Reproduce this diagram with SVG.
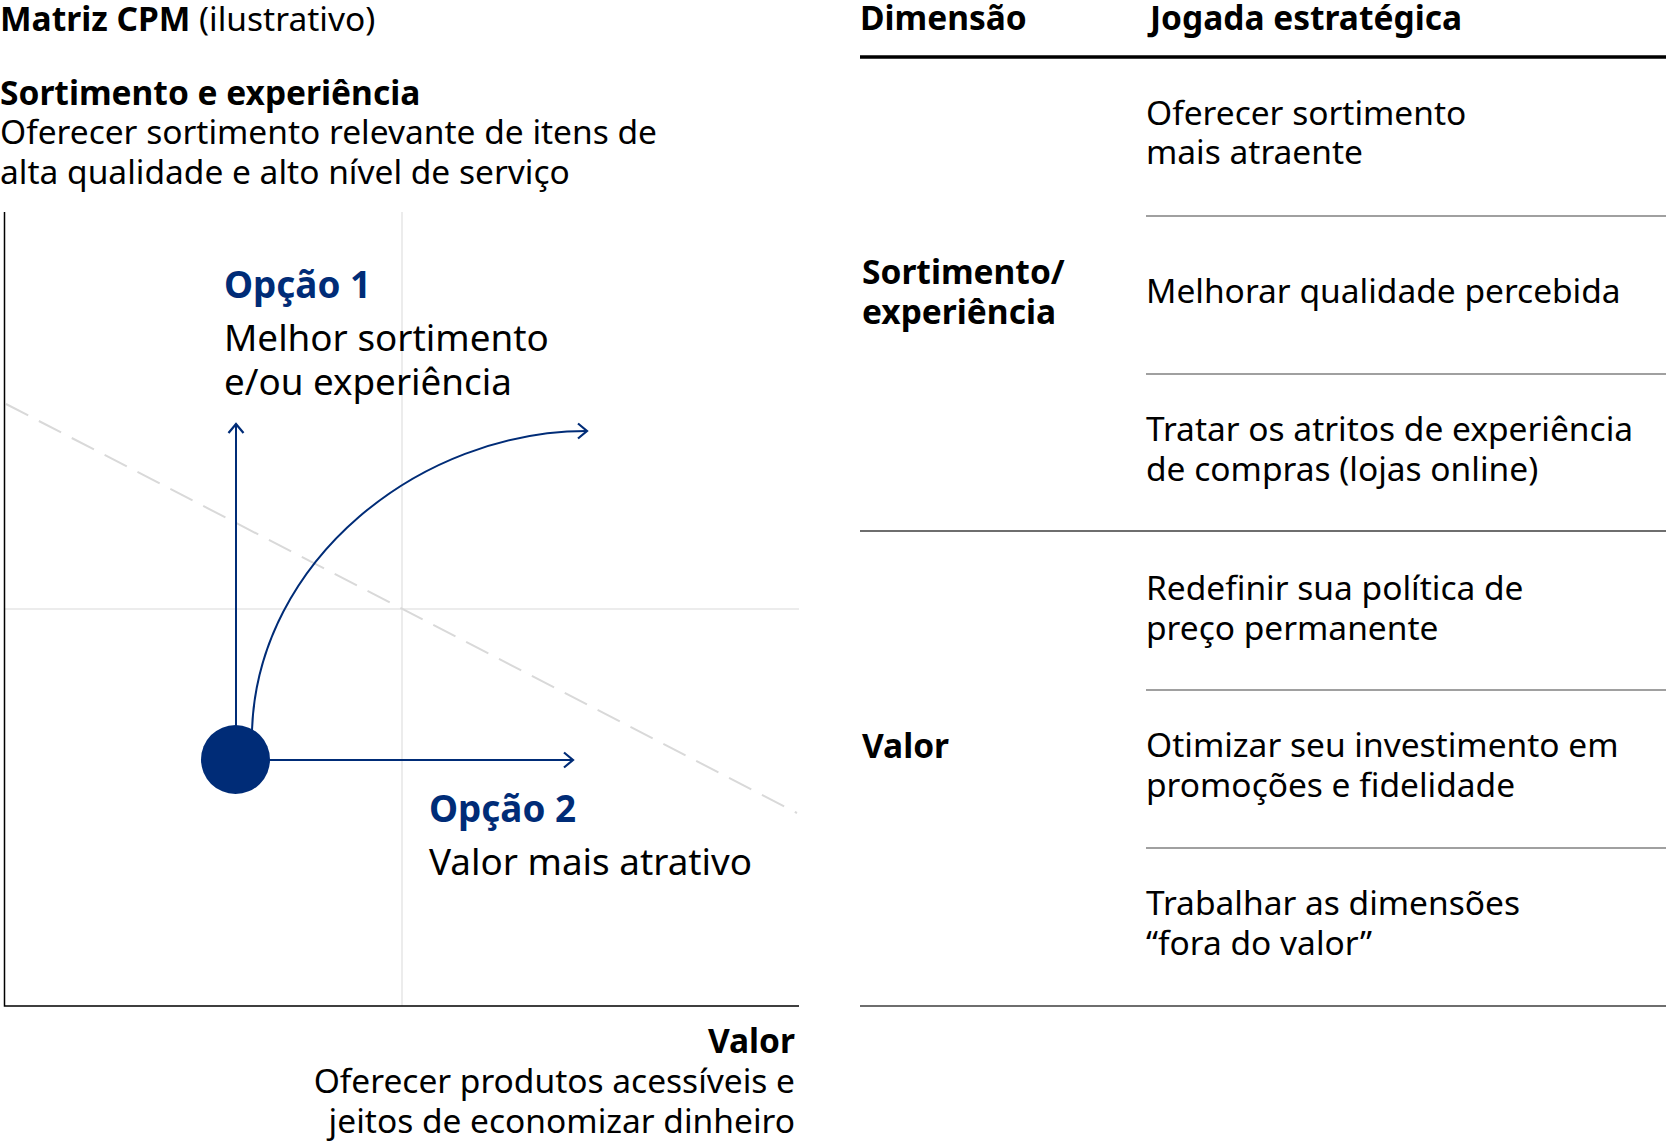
<svg xmlns="http://www.w3.org/2000/svg" width="1666" height="1144" viewBox="0 0 1666 1144">
<style>
text{font-family:"Noto Sans","Open Sans","DejaVu Sans",sans-serif;fill:#000;font-size:33.5px}
.b{font-weight:700}
.opt{font-size:36.8px}
.blue{fill:#002c77}
.grid{stroke:#e6e6e6;stroke-width:1.5;fill:none}
.axis{stroke:#000;stroke-width:1.5;fill:none}
.arrow{stroke:#002c77;stroke-width:2;fill:none}
.sep{stroke:#808080;stroke-width:1.5}
.sepd{stroke:#6e6e6e;stroke-width:2}
</style>
<defs>
<marker id="ah" markerUnits="userSpaceOnUse" markerWidth="24" markerHeight="24" viewBox="-12 -12 24 24" refX="0" refY="0" orient="auto">
<path d="M-9,-7.5 L0,0 L-9,7.5" fill="none" stroke="#002c77" stroke-width="2.2"/>
</marker>
</defs>
<g id="chart-labels">
<text x="0" y="31"><tspan class="b">Matriz CPM</tspan> (ilustrativo)</text>
<text x="0" y="105" class="b">Sortimento e experiência</text>
<text x="0" y="144">Oferecer sortimento relevante de itens de</text>
<text x="0" y="184">alta qualidade e alto nível de serviço</text>
<text x="795" y="1053" class="b" text-anchor="end">Valor</text>
<text x="795" y="1093" text-anchor="end">Oferecer produtos acessíveis e</text>
<text x="795" y="1133" text-anchor="end">jeitos de economizar dinheiro</text>
</g>
<g id="grid">
<line class="grid" x1="402" y1="212" x2="402" y2="1006"/>
<line class="grid" x1="5" y1="609" x2="799" y2="609"/>
<line x1="6" y1="404" x2="797" y2="813" stroke="#d9d9d9" stroke-width="2" stroke-dasharray="25 12"/>
<path class="axis" d="M4.5,212 V1006 H799"/>
</g>
<g id="connectors">
<line class="arrow" x1="236" y1="740" x2="236" y2="424" marker-end="url(#ah)"/>
<line class="arrow" x1="250" y1="760" x2="573" y2="760" marker-end="url(#ah)"/>
<path class="arrow" d="M252,730 C258,560 420,431 587,431" marker-end="url(#ah)"/>
</g>
<g id="origin">
<circle cx="235.5" cy="759.5" r="34.5" fill="#002c77"/>
</g>
<g id="option1">
<text x="224" y="298" class="opt b blue">Opção 1</text>
<text x="224" y="351" class="opt">Melhor sortimento</text>
<text x="224" y="395" class="opt">e/ou experiência</text>
</g>
<g id="option2">
<text x="429" y="822" class="opt b blue">Opção 2</text>
<text x="429" y="875" class="opt">Valor mais atrativo</text>
</g>
<g id="table">
<text x="860" y="30" class="b">Dimensão</text>
<text x="1150" y="30" class="b">Jogada estratégica</text>
<line x1="860" y1="57" x2="1666" y2="57" stroke="#000" stroke-width="3.5"/>
<line class="sep" x1="1146" y1="216" x2="1666" y2="216"/>
<line class="sep" x1="1146" y1="374" x2="1666" y2="374"/>
<line class="sepd" x1="860" y1="531" x2="1666" y2="531"/>
<line class="sep" x1="1146" y1="690" x2="1666" y2="690"/>
<line class="sep" x1="1146" y1="848" x2="1666" y2="848"/>
<line class="sepd" x1="860" y1="1006" x2="1666" y2="1006"/>
<text x="862" y="284" class="b">Sortimento/</text>
<text x="862" y="324" class="b">experiência</text>
<text x="862" y="758" class="b">Valor</text>
<text x="1146" y="125">Oferecer sortimento</text>
<text x="1146" y="164">mais atraente</text>
<text x="1146" y="303">Melhorar qualidade percebida</text>
<text x="1146" y="441">Tratar os atritos de experiência</text>
<text x="1146" y="481">de compras (lojas online)</text>
<text x="1146" y="600">Redefinir sua política de</text>
<text x="1146" y="640">preço permanente</text>
<text x="1146" y="757">Otimizar seu investimento em</text>
<text x="1146" y="797">promoções e fidelidade</text>
<text x="1146" y="915">Trabalhar as dimensões</text>
<text x="1146" y="955">“fora do valor”</text>
</g>
</svg>
